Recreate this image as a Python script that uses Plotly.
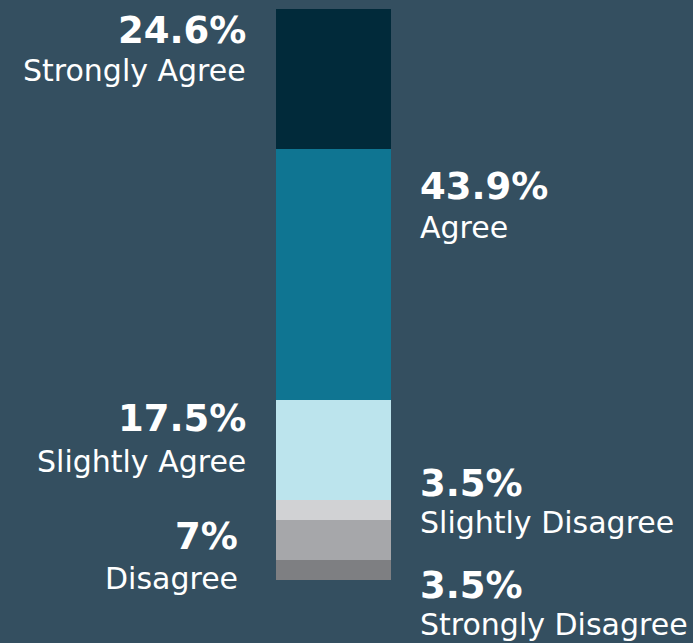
import plotly.graph_objects as go

# Survey response shares (percent), listed bottom-to-top of the stacked bar
categories = ["Strongly Disagree", "Disagree", "Slightly Disagree",
              "Slightly Agree", "Agree", "Strongly Agree"]
values = [3.5, 7, 3.5, 17.5, 43.9, 24.6]
colors = ["#7e7f82", "#a6a7aa", "#d1d2d4", "#bce4ed", "#0f7592", "#012a3a"]

# Label placement: side of the bar, anchor x (px) and vertical centre of the
# number line and the category line (px from top of the page)
label_side = {"Strongly Agree": ("left", 247, 30.5, 70.5),
              "Agree": ("right", 419, 186, 227.5),
              "Slightly Agree": ("left", 247, 418, 461),
              "Slightly Disagree": ("right", 419, 483.5, 522.5),
              "Disagree": ("left", 239, 536.5, 578),
              "Strongly Disagree": ("right", 419, 585, 624.5)}

W, H = 693, 643
BG = "#344f60"
BAR_TOP, BAR_BOTTOM = 9, 580          # px from top
BAR_CENTER, BAR_WIDTH = 333.5, 115    # px

fig = go.Figure()
for cat, val, col in zip(categories, values, colors):
    fig.add_trace(go.Bar(x=[BAR_CENTER], y=[val], width=[BAR_WIDTH],
                         marker=dict(color=col, line=dict(width=0)),
                         name=cat, hoverinfo="skip"))

# y range so that 0..100 spans the bar's pixel extent
span = BAR_BOTTOM - BAR_TOP
per_unit = span / 100.0
y_lo = -(H - BAR_BOTTOM) / per_unit
y_hi = 100 + BAR_TOP / per_unit


def fmt(v):
    return f"{v:g}%"


annotations = []
for cat, val in zip(categories, values):
    side, xpx, ynum, ylab = label_side[cat]
    anchor = "right" if side == "left" else "left"
    annotations.append(dict(
        x=xpx, xref="x", y=1 - ynum / H, yref="paper",
        text=f"<b>{fmt(val)}</b>", showarrow=False,
        xanchor=anchor, yanchor="middle", borderpad=0,
        font=dict(family="DejaVu Sans", size=37, color="#ffffff")))
    annotations.append(dict(
        x=xpx, xref="x", y=1 - ylab / H, yref="paper",
        text=cat, showarrow=False,
        xanchor=anchor, yanchor="middle", borderpad=0,
        font=dict(family="DejaVu Sans", size=30, color="#ffffff")))

fig.update_layout(
    barmode="stack",
    width=W, height=H,
    margin=dict(l=0, r=0, t=0, b=0),
    paper_bgcolor=BG, plot_bgcolor=BG,
    showlegend=False,
    hovermode=False,
    xaxis=dict(range=[0, W], visible=False, fixedrange=True),
    yaxis=dict(range=[y_lo, y_hi], visible=False, fixedrange=True),
    annotations=annotations,
)

fig.write_html("out.html", config={"displayModeBar": False})
